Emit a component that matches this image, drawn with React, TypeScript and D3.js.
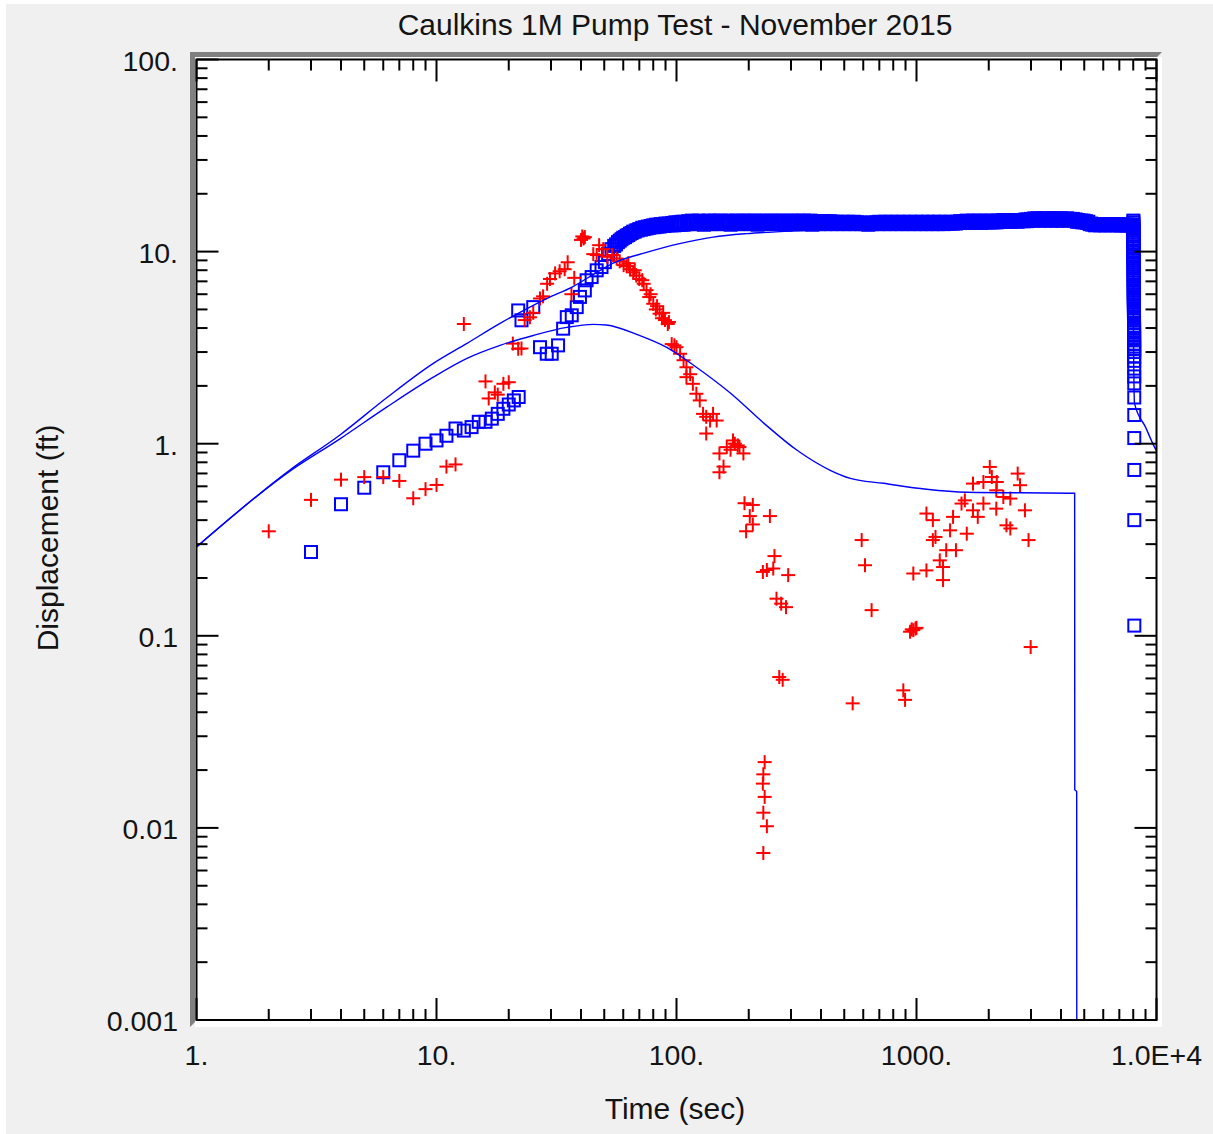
import React from "react";
import * as d3 from "d3";

// ---------- data ----------
const xMajorValues = [1, 10, 100, 1000, 10000];
const xTickLabels = ["1.", "10.", "100.", "1000.", "1.0E+4"];
const yMajorValues = [0.001, 0.01, 0.1, 1, 10, 100];
const yTickLabels = ["0.001", "0.01", "0.1", "1.", "10.", "100."];

// observation well (blue squares): early time
const squaresEarly: [number, number][] = [
  [3, 0.273], [4, 0.484], [5, 0.59], [6, 0.71], [7, 0.82], [8, 0.92], [9, 1.0], [10, 1.04],
  [11, 1.1], [12, 1.2], [13, 1.17], [14, 1.22], [15, 1.3], [16, 1.3], [17, 1.35], [18, 1.43],
  [19, 1.52], [20, 1.6], [21, 1.68], [22, 1.75],
  [21.9, 4.94], [22.6, 4.39], [25.3, 5.14], [27, 3.18], [28.8, 2.94], [30.2, 2.94], [32.1, 3.25],
  [33.7, 3.97], [34.9, 4.56], [36.6, 4.66], [38.4, 5.14], [39.6, 5.81], [41.5, 6.28], [42.2, 7.09],
  [44.3, 7.37], [46.5, 7.99], [48.7, 8.31], [50.3, 8.81], [51.9, 9.73], [53.6, 10.3],
];

// observation well (blue squares): pumping period
const squaresBand: [number, number][] = [
  [55, 10.7], [56, 10.9], [57, 11.2], [58, 11.4], [59, 11.6], [60, 11.8], [61, 11.9], [62, 12.1],
  [63, 12.2], [64, 12.4], [65, 12.5], [66, 12.7], [67, 12.7], [68, 12.9], [69, 12.9], [70, 13.1],
  [71, 13.0], [72, 13.3], [73, 13.1], [74, 13.4], [75, 13.2], [76, 13.5], [77, 13.3], [78, 13.6],
  [79, 13.4], [80, 13.7], [81, 13.4], [82, 13.8], [83, 13.5], [84, 13.8], [85, 13.5], [86, 13.9],
  [87, 13.6], [88, 13.9], [89, 13.6], [90, 14.0], [92, 13.7], [93, 14.0], [95, 13.7], [96, 14.1],
  [98, 13.7], [99, 14.2], [101, 13.8], [102, 14.2], [104, 13.8], [105, 14.3], [107, 13.8], [108, 14.3],
  [110, 13.9], [112, 14.4], [114, 13.9], [116, 14.5], [118, 14.0], [120, 14.3], [122, 13.9], [124, 14.5],
  [126, 14.1], [128, 14.4], [130, 13.8], [132, 14.3], [134, 14.0], [136, 14.5], [138, 13.9], [140, 14.4],
  [142, 14.1], [144, 14.5], [146, 13.9], [148, 14.3], [150, 14.0], [153, 14.5], [156, 13.9], [159, 14.4],
  [162, 14.1], [165, 14.5], [168, 13.8], [171, 14.3], [174, 14.0], [177, 14.5], [180, 13.9], [183, 14.4],
  [186, 14.1], [189, 14.5], [192, 13.9], [195, 14.3], [198, 14.0], [201, 14.5], [204, 13.9], [207, 14.4],
  [210, 14.1], [214, 14.5], [218, 13.8], [222, 14.3], [226, 14.0], [230, 14.5], [234, 13.9], [238, 14.4],
  [242, 14.1], [246, 14.5], [250, 13.9], [254, 14.3], [258, 14.0], [262, 14.5], [266, 13.9], [270, 14.4],
  [275, 14.1], [280, 14.5], [285, 13.8], [290, 14.3], [295, 14.0], [300, 14.5], [305, 13.9], [310, 14.4],
  [315, 14.1], [320, 14.5], [325, 13.9], [330, 14.3], [335, 14.0], [340, 14.5], [345, 13.9], [350, 14.4],
  [356, 14.1], [362, 14.5], [368, 13.8], [374, 14.3], [380, 14.0], [386, 14.4], [392, 13.9], [398, 14.3],
  [404, 14.1], [410, 14.4], [416, 13.9], [422, 14.3], [428, 14.0], [434, 14.4], [440, 13.9], [447, 14.3],
  [454, 14.0], [461, 14.3], [468, 13.9], [475, 14.2], [482, 14.0], [489, 14.3], [496, 13.9], [503, 14.2],
  [510, 14.0], [518, 14.3], [526, 13.9], [534, 14.2], [542, 14.0], [550, 14.3], [558, 13.9], [566, 14.2],
  [574, 14.0], [582, 14.2], [590, 13.9], [600, 14.1], [610, 13.9], [620, 14.0], [630, 13.8], [640, 14.1],
  [650, 13.9], [660, 14.2], [670, 14.0], [680, 14.2], [690, 13.9], [700, 14.3], [710, 14.0], [720, 14.2],
  [730, 13.9], [740, 14.3], [750, 14.0], [762, 14.2], [774, 13.9], [786, 14.3], [798, 14.0], [810, 14.2],
  [822, 13.9], [834, 14.3], [846, 14.0], [858, 14.2], [870, 13.9], [884, 14.3], [898, 14.0], [912, 14.2],
  [926, 13.9], [940, 14.3], [954, 14.0], [968, 14.2], [982, 13.9], [996, 14.3], [1010, 14.0], [1025, 14.2],
  [1040, 13.9], [1055, 14.3], [1070, 14.0], [1085, 14.2], [1100, 13.9], [1116, 14.3], [1132, 14.0], [1148, 14.2],
  [1164, 13.9], [1180, 14.3], [1196, 14.0], [1212, 14.2], [1228, 13.9], [1244, 14.3], [1260, 14.0], [1280, 14.2],
  [1300, 13.9], [1320, 14.3], [1340, 14.0], [1360, 14.2], [1380, 14.0], [1400, 14.3], [1420, 14.0], [1440, 14.2],
  [1460, 14.0], [1480, 14.3], [1500, 14.1], [1520, 14.4], [1545, 14.1], [1570, 14.4], [1595, 14.2], [1620, 14.5],
  [1645, 14.1], [1670, 14.4], [1695, 14.2], [1720, 14.5], [1745, 14.1], [1770, 14.4], [1800, 14.2], [1830, 14.5],
  [1860, 14.1], [1890, 14.4], [1920, 14.2], [1950, 14.5], [1980, 14.2], [2010, 14.4], [2040, 14.2], [2070, 14.5],
  [2100, 14.2], [2130, 14.4], [2160, 14.2], [2190, 14.5], [2220, 14.3], [2250, 14.5], [2280, 14.3], [2310, 14.6],
  [2340, 14.3], [2370, 14.6], [2400, 14.4], [2440, 14.6], [2480, 14.3], [2520, 14.6], [2560, 14.4], [2600, 14.6],
  [2640, 14.3], [2680, 14.6], [2720, 14.4], [2760, 14.6], [2800, 14.4], [2840, 14.7], [2880, 14.4], [2920, 14.7],
  [2960, 14.5], [3000, 14.8], [3050, 14.5], [3100, 14.9], [3150, 14.6], [3200, 14.9], [3250, 14.5], [3300, 14.8],
  [3350, 14.6], [3400, 14.9], [3450, 14.5], [3500, 14.9], [3550, 14.6], [3600, 14.8], [3650, 14.5], [3700, 14.9],
  [3750, 14.6], [3800, 14.9], [3850, 14.5], [3900, 14.8], [3950, 14.6], [4000, 14.9], [4060, 14.5], [4120, 14.8],
  [4180, 14.6], [4240, 14.9], [4300, 14.5], [4360, 14.8], [4420, 14.6], [4480, 14.8], [4540, 14.5], [4600, 14.7],
  [4660, 14.3], [4720, 14.6], [4780, 14.3], [4840, 14.5], [4900, 14.2], [4960, 14.5], [5020, 14.2], [5080, 14.4],
  [5140, 14.1], [5200, 14.3], [5270, 13.9], [5340, 14.0], [5410, 13.8], [5480, 13.9], [5550, 13.7], [5620, 13.9],
  [5690, 13.8], [5760, 13.9], [5830, 13.7], [5900, 13.9], [5970, 13.8], [6040, 13.9], [6110, 13.7], [6180, 13.9],
  [6250, 13.8], [6320, 13.9], [6400, 13.7], [6480, 13.9], [6560, 13.8], [6640, 13.9], [6720, 13.7], [6800, 13.9],
  [6880, 13.8], [6960, 13.8], [7040, 13.7], [7120, 13.9], [7200, 13.7], [7280, 13.8], [7360, 13.7], [7440, 13.8],
  [7520, 13.7], [7600, 13.8], [7680, 13.7], [7760, 13.8], [7840, 13.7], [7920, 13.8], [7980, 13.7],
];

// observation well (blue squares): recovery
const squaresRecovery: [number, number][] = [
  [8010, 14.5], [8011, 14.2], [8012, 13.8], [8013, 13.5], [8014, 13.2], [8015, 12.9], [8016, 12.6], [8017, 12.3],
  [8018, 12.0], [8019, 11.7], [8020, 11.5], [8021, 11.2], [8022, 10.9], [8023, 10.6], [8024, 10.4], [8025, 10.1],
  [8026, 9.9], [8027, 9.6], [8028, 9.4], [8029, 9.2], [8030, 9.0], [8031, 8.8], [8032, 8.6], [8033, 8.4],
  [8034, 8.2], [8035, 8.0], [8036, 7.8], [8037, 7.6], [8038, 7.4], [8039, 7.2], [8040, 7.1], [8041, 6.9],
  [8042, 6.7], [8043, 6.55], [8044, 6.4], [8045, 6.25], [8046, 6.1], [8047, 5.95], [8048, 5.8], [8049, 5.7],
  [8050, 5.6], [8051, 5.45], [8052, 5.3], [8053, 5.2], [8054, 5.06], [8055, 4.93], [8056, 4.8], [8057, 4.7],
  [8058, 4.6], [8059, 4.5], [8060, 4.4], [8061, 4.25], [8062, 4.1], [8063, 4.0], [8064, 3.9], [8065, 3.78],
  [8066, 3.66], [8067, 3.55], [8068, 3.45], [8069, 3.32], [8070, 3.2], [8071, 3.1], [8072, 3.0], [8073, 2.85],
  [8074, 2.7], [8075, 2.46], [8076, 2.24], [8077, 2.06], [8078, 1.74], [8079, 1.41], [8080, 1.07], [8081, 0.73],
  [8082, 0.4], [8083, 0.113],
];

// second well (red crosses)
const crosses: [number, number][] = [
  [2, 0.35], [3, 0.51], [4, 0.65], [5, 0.67], [6, 0.67], [7, 0.64], [8, 0.52], [9, 0.58], [10, 0.61],
  [11, 0.76], [12, 0.78], [13, 4.2], [16, 2.11], [16.5, 1.72], [17.5, 1.85], [18, 1.8], [19, 2.05], [20, 2.09],
  [20.8, 3.32], [21.9, 3.12], [22.6, 3.13], [23.3, 4.4], [24.5, 4.55], [25.3, 4.8], [27, 5.7], [27.8, 5.85],
  [28.9, 6.8], [29.7, 7.2], [31.2, 7.7], [32.6, 7.9], [34.2, 8.1], [35.2, 8.8], [36.5, 6.0], [37.5, 7.3],
  [40, 11.5], [40.5, 12.0], [41, 11.7], [41.5, 11.9], [45, 9.7], [46.5, 9.6], [47.6, 10.8], [49.5, 10.3],
  [51.5, 9.4], [54, 9.6], [56.3, 9.2], [58, 8.9], [60.2, 8.5], [62, 8.4], [63, 8.7], [64, 8.1], [66, 7.8],
  [67, 8.0], [68, 7.5], [70, 7.2], [72, 7.1], [73, 6.8], [75, 6.3], [77, 5.8], [78, 6.0], [80, 5.35], [82, 5.0],
  [83, 5.2], [85, 4.75], [87, 4.5], [88, 4.8], [89.5, 4.4], [92, 4.2], [93, 4.3], [95.5, 3.3], [98, 3.25],
  [100, 3.18], [103.5, 2.94], [107, 2.72], [110, 2.5], [110, 2.22], [114, 2.3], [117, 2.05], [121, 1.82],
  [125, 1.68], [129, 1.43], [133, 1.38], [138, 1.32], [142, 1.43], [147, 1.32], [133, 1.13], [151, 0.89],
  [162, 0.96], [168, 0.93], [172, 1.04], [175, 1.0], [180, 0.98], [183, 0.96], [190, 0.89], [157, 0.76],
  [151, 0.71], [192, 0.49], [208, 0.48], [202, 0.42], [245, 0.42], [195, 0.35], [208, 0.38], [256, 0.26],
  [238, 0.22], [229, 0.215], [253, 0.224], [292, 0.207], [261, 0.156], [273, 0.147], [286, 0.141],
  [268, 0.061], [277, 0.059], [233, 0.022], [230, 0.019], [229, 0.017], [233, 0.0145], [230, 0.012],
  [238, 0.0102], [230, 0.0074], [542, 0.0445], [591, 0.315], [610, 0.233], [650, 0.136], [881, 0.052],
  [896, 0.0464], [940, 0.105], [955, 0.108], [970, 0.107], [990, 0.109], [1000, 0.11], [970, 0.211],
  [1100, 0.219], [1290, 0.195], [1290, 0.228], [1250, 0.247], [1170, 0.315], [1200, 0.327], [1330, 0.279],
  [1460, 0.279], [1380, 0.354], [1620, 0.34], [1420, 0.416], [1100, 0.433], [1170, 0.4], [1540, 0.488],
  [1590, 0.507], [1720, 0.45], [1800, 0.416], [1900, 0.488], [2150, 0.459], [1720, 0.62], [1900, 0.632],
  [2020, 0.757], [2060, 0.671], [2160, 0.632], [2150, 0.572], [2300, 0.528], [2460, 0.518], [2640, 0.699],
  [2700, 0.608], [2370, 0.376], [2460, 0.362], [2830, 0.45], [2930, 0.315], [2990, 0.0874],
];

// model curves (blue lines)
const modelUpper: [number, number][] = [
  [1, 0.29], [2.45, 0.73], [3.96, 1.11], [6.22, 1.74], [9.7, 2.62], [13.4, 3.33], [18.4, 4.23],
  [22.3, 4.83], [28.9, 5.71], [37.2, 6.6], [45, 7.6], [54.5, 8.7], [75, 9.9], [103, 11.0], [142, 11.9],
  [196, 12.4], [270, 12.7], [436, 13.0], [850, 13.3], [2200, 13.5], [7980, 13.5], [8000, 6.0],
  [8040, 2.5], [8100, 1.62], [9000, 1.22], [10000, 0.92], [10500, 0.85],
];
const modelLower: [number, number][] = [
  [1, 0.29], [2.45, 0.72], [3.96, 1.06], [6.2, 1.55], [9.7, 2.22], [13.4, 2.78], [18.4, 3.25],
  [25.3, 3.66], [34.9, 4.03], [45, 4.18], [51, 4.15], [70, 3.66], [91, 3.17], [121, 2.5], [168, 1.83],
  [231, 1.28], [318, 0.924], [437, 0.727], [530, 0.66], [728, 0.622], [1100, 0.579], [1620, 0.559],
  [4560, 0.552], [4565, 0.0158], [4650, 0.0155], [4655, 0.0005],
];

// ---------- chart ----------
const W = 1213;
const H = 1134;
const X0 = 196.5, X1 = 1156.5, Y0 = 59.5, Y1 = 1020;
const FONT = "'Liberation Sans', Arial, sans-serif";
const TXT = "#141414";
const BLUE = "#0000ff";
const RED = "#ff0000";

export default function App() {
  const x = d3.scaleLog().domain([1, 10000]).range([X0, X1]);
  const y = d3.scaleLog().domain([0.001, 100]).range([Y1, Y0]);

  const isMajor = (v: number) => Math.abs(Math.log10(v) - Math.round(Math.log10(v))) < 1e-9;
  const xTicks = x.ticks();
  const yTicks = y.ticks();

  const line = d3
    .line<[number, number]>()
    .x((d) => x(d[0]))
    .y((d) => y(d[1]))
    .curve(d3.curveMonotoneX);

  const squares = [...squaresEarly, ...squaresBand, ...squaresRecovery];
  const S = 12;
  const C = 7;

  return (
    <svg
      width={W}
      height={H}
      style={{ position: "absolute", left: 0, top: 0, display: "block" }}
      fontFamily={FONT}
    >
      <defs>
        <clipPath id="plotClip">
          <rect x={X0} y={Y0} width={X1 - X0} height={Y1 - Y0} />
        </clipPath>
      </defs>
      <rect width={W} height={H} fill="#ffffff" />
      <rect x={6} y={4} width={W - 6} height={H - 4} fill="#f0f0f0" />
      <polygon points="190,52 1162,52 1157,57 195,57 195,1022 190,1027" fill="#808080" />
      <rect x={195} y={57} width={967} height={970} fill="#ffffff" />

      {/* data: squares */}
      <g fill="none" stroke={BLUE} strokeWidth={2}>
        {squares.map((d, i) => (
          <rect key={i} x={x(d[0]) - S / 2} y={y(d[1]) - S / 2} width={S} height={S} />
        ))}
      </g>
      {/* data: crosses */}
      <g stroke={RED} strokeWidth={2}>
        {crosses.map((d, i) => {
          const cx = x(d[0]);
          const cy = y(d[1]);
          return (
            <g key={i}>
              <line x1={cx - C} x2={cx + C} y1={cy} y2={cy} />
              <line x1={cx} x2={cx} y1={cy - C} y2={cy + C} />
            </g>
          );
        })}
      </g>
      {/* model lines */}
      <g clipPath="url(#plotClip)" fill="none" stroke={BLUE} strokeWidth={1.4}>
        <path d={line(modelUpper) || ""} />
        <path d={line(modelLower) || ""} />
      </g>

      {/* frame */}
      <rect x={X0} y={Y0} width={X1 - X0} height={Y1 - Y0} fill="none" stroke="#000" strokeWidth={2} />
      <g stroke="#000" strokeWidth={2}>
        {xTicks.map((v, i) => {
          const len = isMajor(v) ? 22 : 11;
          const px = x(v);
          return (
            <g key={"xt" + i}>
              <line x1={px} x2={px} y1={Y1} y2={Y1 - len} />
              <line x1={px} x2={px} y1={Y0} y2={Y0 + len} />
            </g>
          );
        })}
        {yTicks.map((v, i) => {
          const len = isMajor(v) ? 22 : 11;
          const py = y(v);
          return (
            <g key={"yt" + i}>
              <line x1={X0} x2={X0 + len} y1={py} y2={py} />
              <line x1={X1} x2={X1 - len} y1={py} y2={py} />
            </g>
          );
        })}
      </g>

      {/* tick labels */}
      <g fill={TXT} fontSize={28.5}>
        {xMajorValues.map((v, i) => (
          <text key={"xl" + i} x={x(v)} y={1065} textAnchor="middle">
            {xTickLabels[i]}
          </text>
        ))}
        {yMajorValues.map((v, i) => (
          <text key={"yl" + i} x={178} y={y(v) + 11} textAnchor="end">
            {yTickLabels[i]}
          </text>
        ))}
      </g>

      {/* titles */}
      <text x={675} y={35} textAnchor="middle" fontSize={30} fill={TXT}>
        Caulkins 1M Pump Test - November 2015
      </text>
      <text x={675} y={1119} textAnchor="middle" fontSize={30} fill={TXT}>
        Time (sec)
      </text>
      <text
        transform="translate(58,538) rotate(-90)"
        textAnchor="middle"
        fontSize={30}
        fill={TXT}
      >
        Displacement (ft)
      </text>
    </svg>
  );
}
